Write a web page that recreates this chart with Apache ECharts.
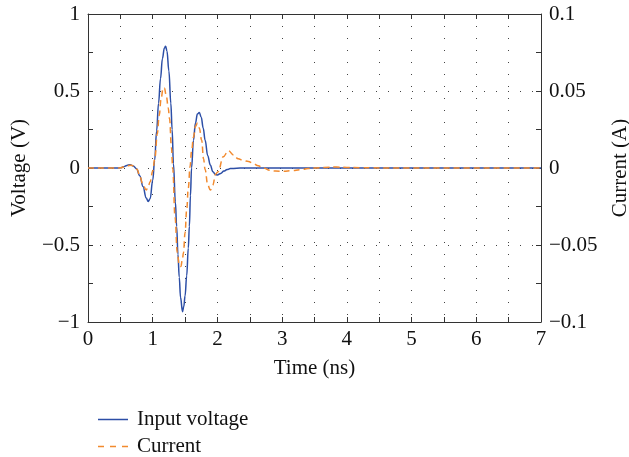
<!DOCTYPE html>
<html>
<head>
<meta charset="utf-8">
<script src="https://cdn.jsdelivr.net/npm/echarts@6/dist/echarts.min.js"></script>
<style>html,body{margin:0;padding:0;background:#fff}#c{width:629px;height:457px}</style>
</head>
<body>
<div id="c"></div>
<script>
var seriesNames = ['Input voltage', 'Current'];
var timeV = [0,0.45,0.5,0.55,0.6,0.65,0.7,0.75,0.8,0.85,0.9,0.93,0.96,1.0,1.03,1.06,1.09,1.12,1.15,1.18,1.2,1.22,1.25,1.28,1.3,1.32,1.35,1.37,1.39,1.41,1.43,1.46,1.48,1.5,1.525,1.55,1.566,1.583,1.6,1.63,1.66,1.69,1.72,1.75,1.78,1.81,1.85,1.89,1.93,1.97,2.0,2.05,2.1,2.15,2.2,2.3,2.4,7];
var voltage = [0,0,0.001,0.008,0.017,0.021,0.013,-0.005,-0.05,-0.12,-0.195,-0.217,-0.2,-0.08,0.05,0.24,0.42,0.58,0.71,0.78,0.79,0.76,0.63,0.42,0.25,0.03,-0.22,-0.38,-0.56,-0.71,-0.84,-0.933,-0.9,-0.83,-0.7,-0.52,-0.38,-0.18,0.0,0.18,0.29,0.35,0.36,0.33,0.26,0.18,0.08,0.02,-0.025,-0.043,-0.045,-0.035,-0.02,-0.01,-0.004,-0.001,0,0];
var timeI = [0,0.45,0.5,0.6,0.67,0.72,0.76,0.8,0.85,0.9,0.93,0.96,1.0,1.035,1.07,1.1,1.13,1.16,1.18,1.21,1.24,1.26,1.29,1.31,1.345,1.38,1.41,1.435,1.46,1.475,1.5,1.525,1.55,1.577,1.6,1.63,1.66,1.69,1.72,1.757,1.785,1.81,1.85,1.89,1.93,1.97,2.01,2.09,2.17,2.25,2.32,2.4,2.48,2.55,2.63,2.71,2.81,2.9,3.02,3.15,3.28,3.4,3.5,3.65,3.84,4.0,4.2,4.4,4.6,7];
var current = [0,0,0.0001,0.0015,0.0018,0.001,-0.001,-0.0055,-0.011,-0.0143,-0.012,-0.009,-0.002,0.007,0.022,0.034,0.045,0.052,0.052,0.047,0.039,0.032,0.013,-0.001,-0.032,-0.055,-0.063,-0.064,-0.059,-0.055,-0.042,-0.027,-0.013,0.001,0.011,0.02,0.027,0.029,0.026,0.018,0.006,-0.001,-0.011,-0.0143,-0.011,-0.004,-0.0024,0.0073,0.0112,0.0085,0.006,0.0048,0.0042,0.003,0.0015,0,-0.0015,-0.002,-0.0021,-0.0017,-0.0011,-0.0004,0,0.0004,0.0006,0.0004,0.0002,0.0001,0,0];
var xTicks = [0,1,2,3,4,5,6,7];
var vTicks = [-1,-0.5,0,0.5,1];
var iTicks = [-0.1,-0.05,0,0.05,0.1];

function pairs(xs, ys){ return xs.map(function(x,i){ return [x, ys[i]]; }); }
function fmt(v){ return String(v).replace('-', '\u2212'); }

var FONT = 'Liberation Serif';
var FS = 21;
var axisCol = '#333';
var gridDot = {show:true, lineStyle:{color:'#444', width:1, type:[1,11]}};
var solidIcon = 'path://M0,0L0.01,0Z M0,5.3H30V6.7H0Z M30,12L29.99,12Z';
var dashIcon = 'path://M0,0L0.01,0Z M0,5.2H6V6.8H0Z M12,5.2H18V6.8H12Z M24,5.2H30V6.8H24Z M30,12L29.99,12Z';

var chart = echarts.init(document.getElementById('c'), null, {renderer:'canvas'});
chart.setOption({
  animation:false,
  backgroundColor:'#fff',
  textStyle:{fontFamily:FONT},
  grid:{left:88, right:88, top:14, bottom:135, outerBoundsMode:'none', containLabel:false},
  legend:{
    data:[{name:seriesNames[0], icon:solidIcon},{name:seriesNames[1], icon:dashIcon}],
    orient:'vertical', left:93, top:404, height:80, itemWidth:30, itemHeight:12, itemGap:6,
    textStyle:{fontFamily:FONT, fontSize:FS, color:'#111', padding:[0,0,0,4]}
  },
  xAxis:[{
    type:'value', min:xTicks[0], max:xTicks[xTicks.length-1], interval:1,
    name:'Time (ns)', nameLocation:'middle', nameGap:36,
    nameTextStyle:{fontFamily:FONT, fontSize:FS, color:'#111'},
    axisLine:{show:true, onZero:false, lineStyle:{color:axisCol, width:1}},
    axisTick:{show:true, inside:true, length:5, lineStyle:{color:axisCol}},
    minorTick:{show:true, splitNumber:2, length:5, lineStyle:{color:axisCol}},
    axisLabel:{fontFamily:FONT, fontSize:FS, color:'#111', margin:7, formatter:fmt},
    splitLine:gridDot,
    minorSplitLine:gridDot
  },{
    type:'value', position:'top', min:0, max:7, interval:1,
    axisLine:{show:true, onZero:false, lineStyle:{color:axisCol, width:1}},
    axisTick:{show:true, inside:true, length:5, lineStyle:{color:axisCol}},
    minorTick:{show:true, splitNumber:2, length:5, lineStyle:{color:axisCol}},
    axisLabel:{show:false}, splitLine:{show:false}
  }],
  yAxis:[{
    type:'value', min:vTicks[0], max:vTicks[vTicks.length-1], interval:0.5,
    name:'Voltage (V)', nameLocation:'middle', nameGap:58, nameRotate:90,
    nameTextStyle:{fontFamily:FONT, fontSize:FS, color:'#111'},
    axisLine:{show:true, onZero:false, lineStyle:{color:axisCol, width:1}},
    axisTick:{show:true, inside:true, length:5, lineStyle:{color:axisCol}},
    minorTick:{show:true, splitNumber:2, length:5, lineStyle:{color:axisCol}},
    axisLabel:{fontFamily:FONT, fontSize:FS, color:'#111', margin:8, formatter:fmt},
    splitLine:gridDot
  },{
    type:'value', position:'right', min:iTicks[0], max:iTicks[iTicks.length-1], interval:0.05,
    name:'Current (A)', nameLocation:'middle', nameGap:69, nameRotate:90,
    nameTextStyle:{fontFamily:FONT, fontSize:FS, color:'#111'},
    axisLine:{show:true, onZero:false, lineStyle:{color:axisCol, width:1}},
    axisTick:{show:true, inside:true, length:5, lineStyle:{color:axisCol}},
    minorTick:{show:true, splitNumber:2, length:5, lineStyle:{color:axisCol}},
    axisLabel:{fontFamily:FONT, fontSize:FS, color:'#111', margin:8, formatter:fmt},
    splitLine:{show:false}
  }],
  series:[{
    name:seriesNames[0], type:'line', xAxisIndex:0, yAxisIndex:0,
    data:pairs(timeV, voltage), smooth:0.4, smoothMonotone:'x', showSymbol:false, symbol:'none',
    lineStyle:{color:'#2c4ea6', width:1.5}, itemStyle:{color:'#2c4ea6'}
  },{
    name:seriesNames[1], type:'line', xAxisIndex:0, yAxisIndex:1,
    data:pairs(timeI, current), smooth:0.4, smoothMonotone:'x', showSymbol:false, symbol:'none',
    lineStyle:{color:'#f28a2e', width:1.5, type:[6,4]}, itemStyle:{color:'#f28a2e'}
  }]
});
</script>
</body>
</html>
